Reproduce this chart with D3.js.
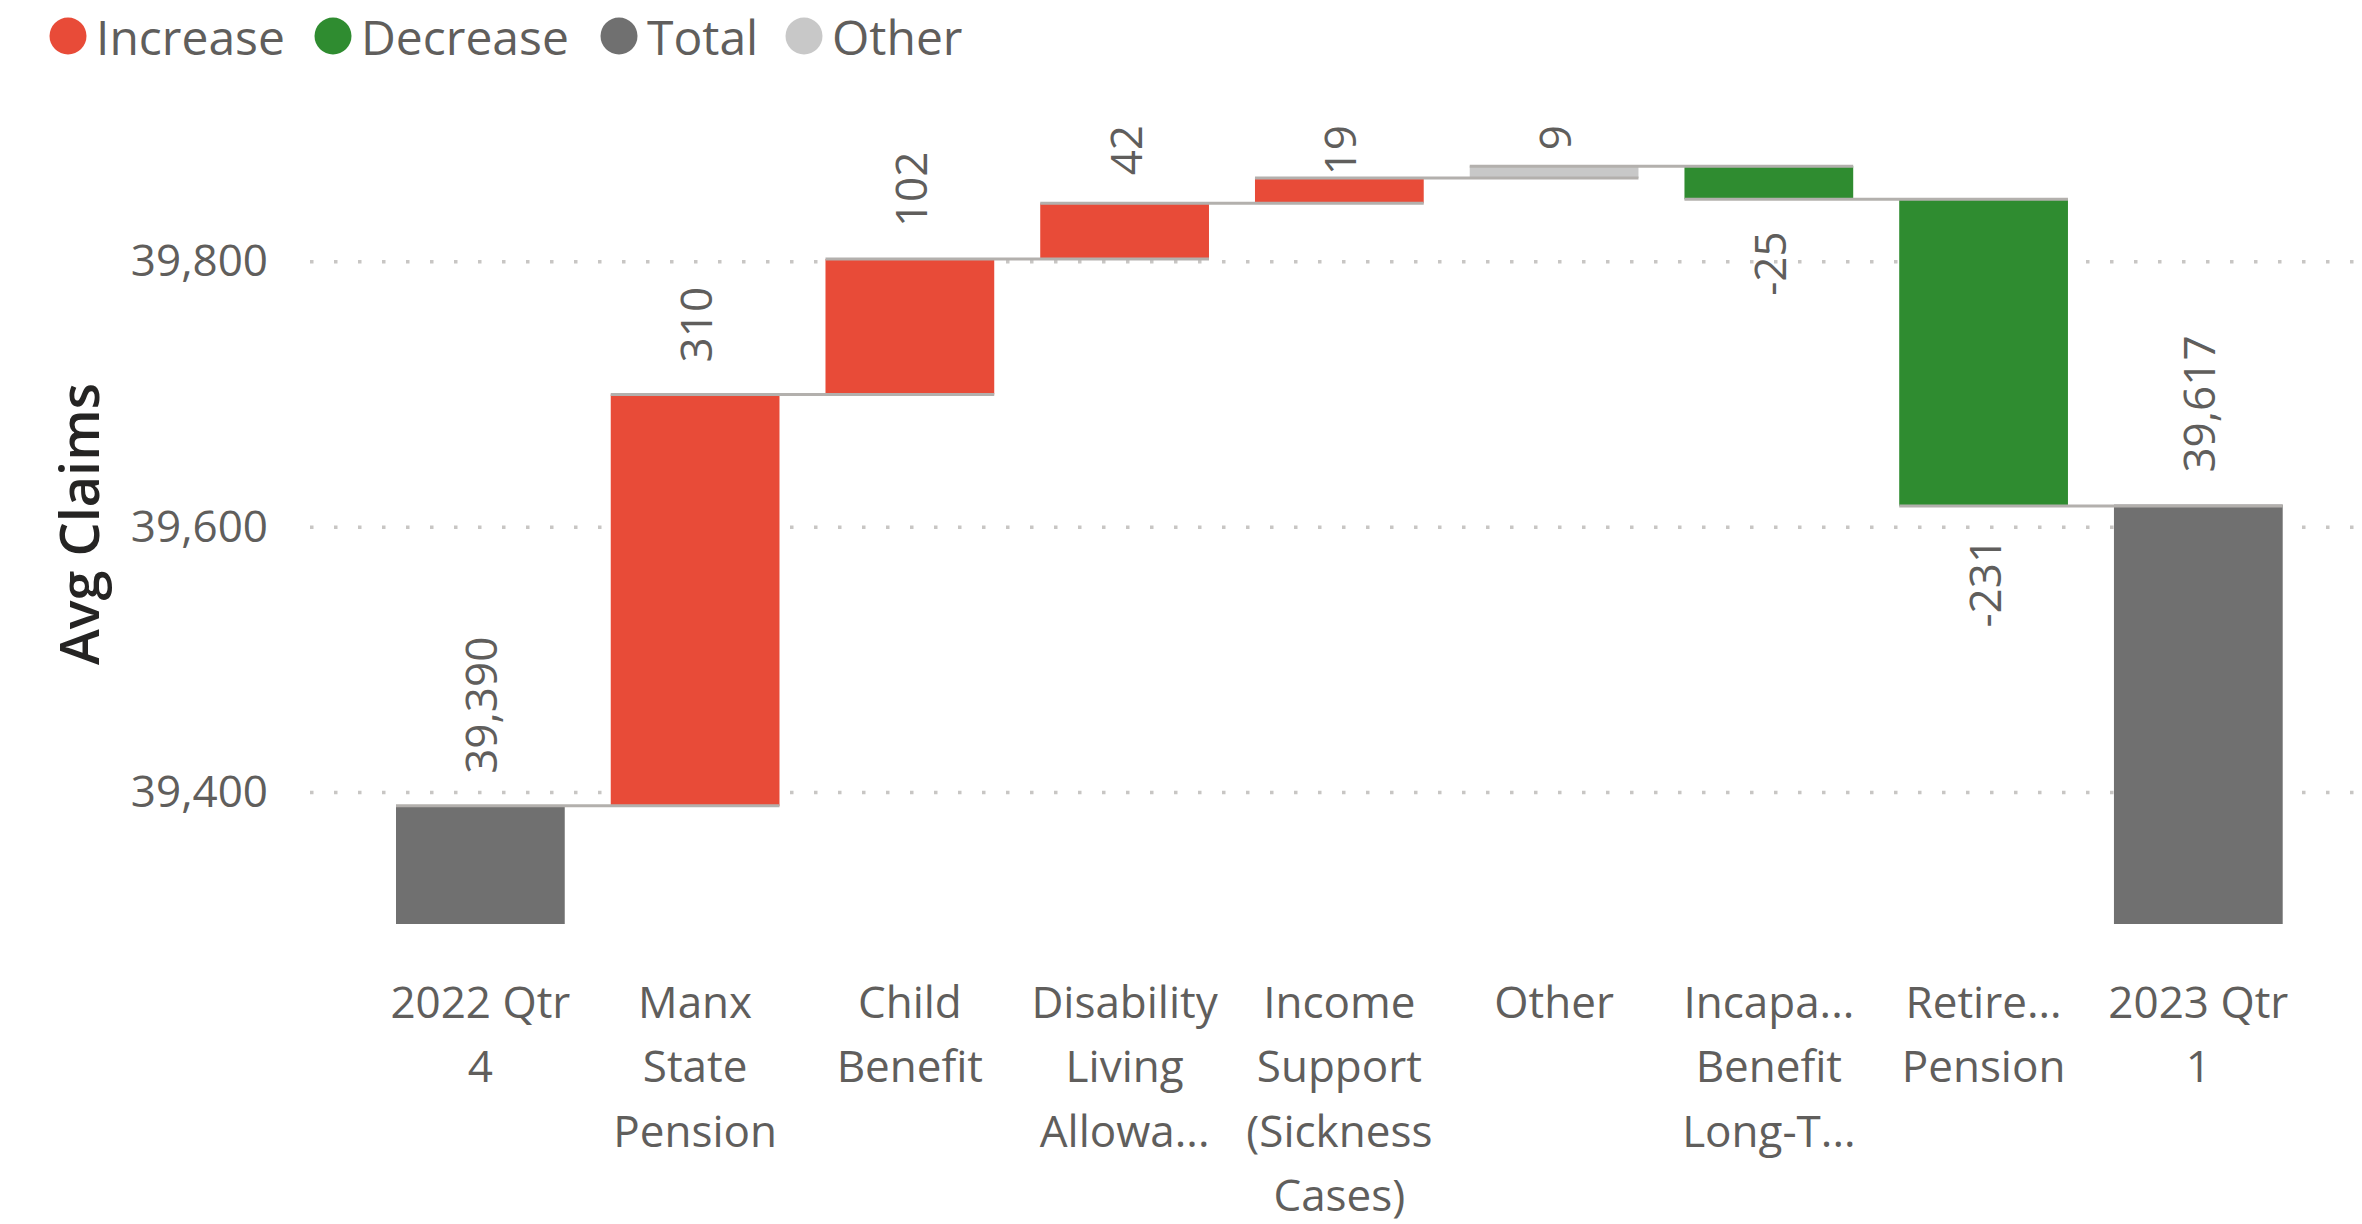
<!DOCTYPE html>
<html>
<head>
<meta charset="utf-8">
<script src="https://cdn.jsdelivr.net/npm/d3@7"></script>
<style>
  html, body { margin: 0; padding: 0; background: #ffffff; }
  text { font-family: "Open Sans", "Noto Sans", sans-serif; }
</style>
</head>
<body>
<div id="waterfall_chart"></div>
<script>
// chart data
const categoryLines = [
    ["2022 Qtr", "4"],
    ["Manx", "State", "Pension"],
    ["Child", "Benefit"],
    ["Disability", "Living", "Allowa..."],
    ["Income", "Support", "(Sickness", "Cases)"],
    ["Other"],
    ["Incapa...", "Benefit", "Long-T..."],
    ["Retire...", "Pension"],
    ["2023 Qtr", "1"]
]
const stepValues = [39390, 310, 102, 42, 19, 9, -25, -231, 39617]
const stepKinds = ["Total", "Increase", "Increase", "Increase", "Increase", "Other", "Decrease", "Decrease", "Total"]
const legendNames = ["Increase", "Decrease", "Total", "Other"]
const yTickValues = [39400, 39600, 39800]

// colours for each kind of step
const kindColor = d3.scaleOrdinal()
    .domain(legendNames)
    .range(["#E84B38", "#2F8C30", "#707070", "#C8C8C8"])

// plain hyphen for negatives, like the original
const fmt = d3.formatLocale({ decimal: ".", thousands: ",", grouping: [3], currency: ["", ""], minus: "-" }).format(",")

const widthWf = 2362
const heightWf = 1224

var waterfallChart = d3.select("#waterfall_chart")
  .append("svg")
    .attr("width", widthWf)
    .attr("height", heightWf)
    .style("display", "block")

// build the waterfall steps (start, end) from the values
let running = 0
const steps = stepValues.map(function(v, i) {
    let start, end
    if (stepKinds[i] == "Total") {
        start = null; end = v
    } else {
        start = running; end = running + v
    }
    running = end
    return { idx: i, kind: stepKinds[i], value: v, start: start, end: end, lines: categoryLines[i] }
})

// scales
const x = d3.scaleBand()
    .domain(d3.range(steps.length))
    .range([373, 2305.7])
    .paddingInner(0.2142)
    .paddingOuter(0.1071)

const y = d3.scaleLinear()
    .domain([39301, 39800])
    .range([924, 261.7])

const yBottom = y.domain()[0]

// dotted gridlines
waterfallChart.append("g")
    .selectAll("line")
    .data(yTickValues)
    .join("line")
        .attr("x1", 310)
        .attr("x2", widthWf)
        .attr("y1", function(d) { return y(d); })
        .attr("y2", function(d) { return y(d); })
        .attr("stroke", "#C8C6C4")
        .attr("stroke-width", 3.5)
        .attr("stroke-dasharray", "3.5,20.5")

// y axis labels
const yAxis = waterfallChart.append("g")
    .attr("transform", "translate(268,0)")
    .call(d3.axisLeft(y).tickValues(yTickValues).tickSize(0).tickPadding(0).tickFormat(fmt))
yAxis.select(".domain").remove()
yAxis.selectAll("text")
    .attr("fill", "#605E5C")
    .style("font-size", "44px")
    .style("font-family", "'Open Sans', sans-serif")

// y axis title
waterfallChart.append("text")
    .attr("transform", "translate(78,524) rotate(-90)")
    .attr("text-anchor", "middle")
    .attr("dominant-baseline", "central")
    .attr("fill", "#252423")
    .style("font-size", "54px")
    .style("font-weight", "600")
    .text("Avg Claims")

// bars
waterfallChart.append("g")
    .selectAll("rect")
    .data(steps)
    .join("rect")
        .attr("x", function(d) { return x(d.idx); })
        .attr("width", x.bandwidth())
        .attr("y", function(d) {
            const lo = d.start == null ? yBottom : d.start
            return y(Math.max(lo, d.end))
        })
        .attr("height", function(d) {
            const lo = d.start == null ? yBottom : d.start
            return Math.abs(y(lo) - y(d.end))
        })
        .attr("fill", function(d) { return kindColor(d.kind); })

// connector lines between each step and the next one
const connectors = steps.slice(0, steps.length - 1)
waterfallChart.append("g")
    .selectAll("line")
    .data(connectors)
    .join("line")
        .attr("x1", function(d) { return x(d.idx); })
        .attr("x2", function(d) { return x(d.idx + 1) + x.bandwidth(); })
        .attr("y1", function(d) { return y(d.end); })
        .attr("y2", function(d) { return y(d.end); })
        .attr("stroke", "#B3B0AD")
        .attr("stroke-width", 3)

// data labels, rotated
const topLimit = 125
const labels = waterfallChart.append("g")
    .selectAll("text")
    .data(steps)
    .join("text")
        .attr("text-anchor", function(d) { return d.value < 0 ? "end" : "start"; })
        .attr("dominant-baseline", "central")
        .attr("fill", "#605E5C")
        .style("font-size", "44px")
        .text(function(d) { return fmt(d.value); })

labels.each(function(d) {
    const cx = x(d.idx) + x.bandwidth() / 2
    const len = this.getComputedTextLength()
    let ly
    if (d.value < 0) {
        ly = y(d.start == null ? yBottom : Math.min(d.start, d.end)) + 32
    } else {
        ly = y(d.end) - 32
        if (ly - len < topLimit) ly = topLimit + len
    }
    d3.select(this).attr("transform", "translate(" + cx + "," + ly + ") rotate(-90)")
})

// category labels under the bars
const catGroups = waterfallChart.append("g")
    .selectAll("text")
    .data(steps)
    .join("text")
        .attr("text-anchor", "middle")
        .attr("fill", "#605E5C")
        .style("font-size", "44px")
        .attr("x", function(d) { return x(d.idx) + x.bandwidth() / 2; })
        .attr("y", 1018)

catGroups.selectAll("tspan")
    .data(function(d) { return d.lines.map(function(l) { return { line: l, cx: x(d.idx) + x.bandwidth() / 2 }; }); })
    .join("tspan")
        .attr("x", function(d) { return d.cx; })
        .attr("dy", function(d, i) { return i == 0 ? 0 : 64.3; })
        .text(function(d) { return d.line; })

// legend
const legendX = [68, 333, 619, 804]
const legend = waterfallChart.append("g")
    .selectAll("g")
    .data(legendNames)
    .join("g")
        .attr("transform", function(d, i) { return "translate(" + legendX[i] + ",36)"; })

legend.append("circle")
    .attr("r", 18.5)
    .attr("fill", function(d) { return kindColor(d); })

legend.append("text")
    .attr("x", 28)
    .attr("dominant-baseline", "central")
    .attr("fill", "#605E5C")
    .style("font-size", "48px")
    .text(function(d) { return d; })
</script>
</body>
</html>
